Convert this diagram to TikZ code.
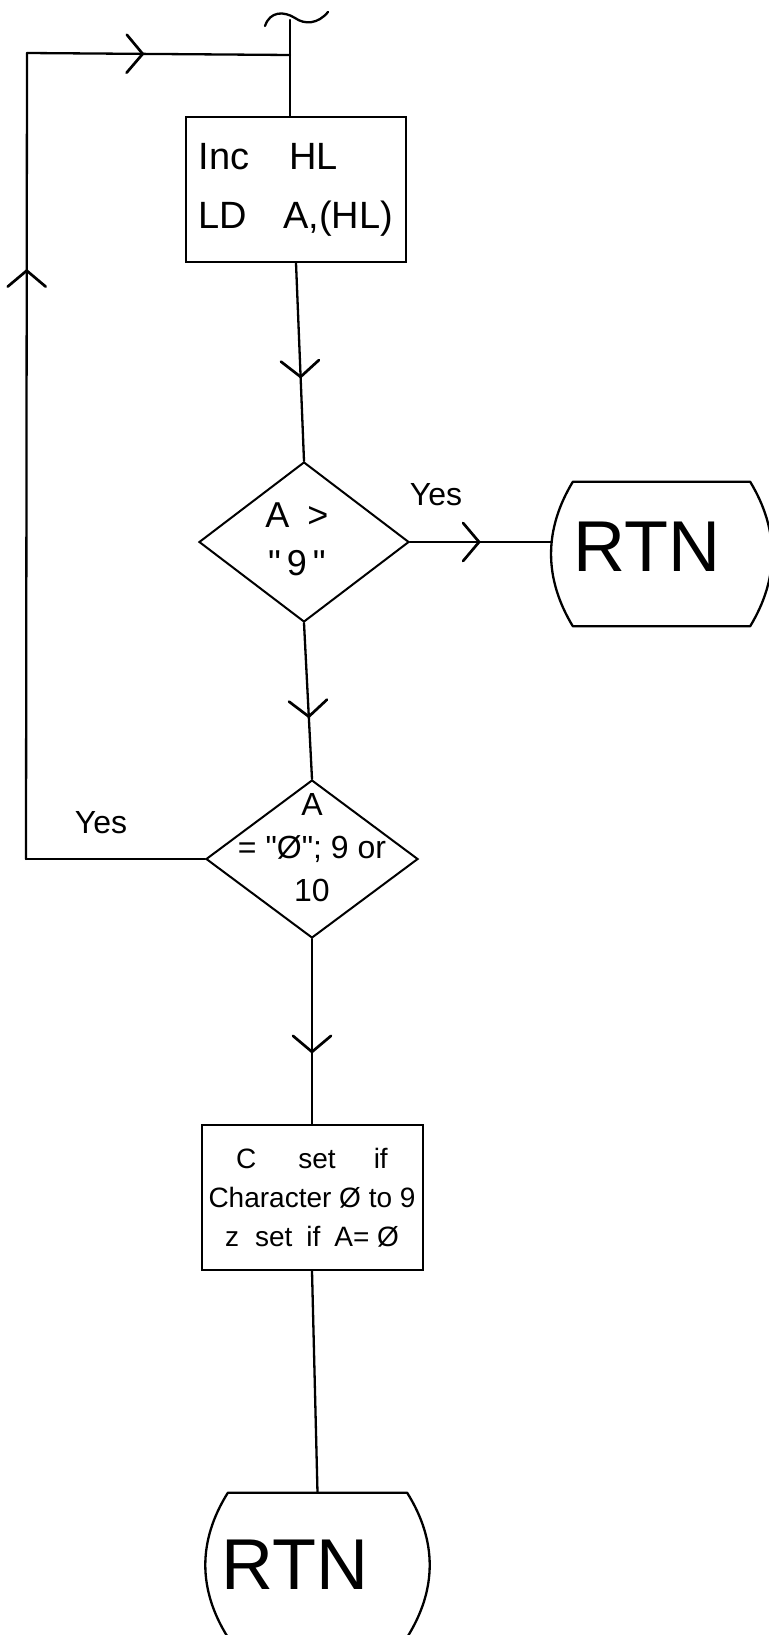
\documentclass[tikz,border=0pt]{standalone}
\usepackage{fontspec}
\setmainfont{Liberation Sans}[Ligatures=TeXOff]
\usetikzlibrary{shapes.geometric,decorations.markings,calc}
\tikzset{
  ln/.style={line width=2.3pt, line cap=round, line join=round},
  procbox/.style={draw, rectangle, line width=2pt, inner sep=0pt},
  decbox/.style={draw, diamond, line width=2pt, inner sep=0pt},
  termshape/.style={draw=none, rectangle, inner sep=0pt},
  midarrow/.style={postaction={decorate, decoration={markings,
      mark=at position #1 with {\draw[line width=2.7pt, line cap=round, line join=round]
        (-16pt,-19pt) -- (0pt,0pt) -- (-16pt,19pt);}}}},
  lbl/.style={inner sep=0pt, font=\fontsize{32}{38}\selectfont},
  rtntext/.style={inner sep=0pt, font=\fontsize{72}{80}\selectfont}
}
\begin{document}
\begin{tikzpicture}[x=1pt,y=-1pt]
\useasboundingbox (0,0) rectangle (768,1635);
\fill[white] (0,0) rectangle (768,1635);

% entry mark
\coordinate (start) at (290,20);
\draw[ln] (265,26) .. controls (270,11) and (284,11) .. (295,18) .. controls (305,25) and (318,24) .. (328,12);

% process box 1
\node[procbox, minimum width=220pt, minimum height=145pt, align=left,
      font=\fontsize{38}{59}\selectfont] (b1) at (296,189.5)
      {Inc\hspace{40pt}HL\\LD\hspace{36pt}A,(HL)};

% decision 1
\node[decbox, minimum width=210pt, minimum height=160pt] (d1) at (304,542) {};
\node[inner sep=0pt, align=center, font=\fontsize{36}{48}\selectfont] (d1t) at (297,539)
      {A\hspace{18pt}>\\"\hspace{6pt}9\hspace{6pt}"};

% terminal 1
\node[termshape, minimum width=177pt, minimum height=144pt] (r1) at (661.5,554) {};
\draw[ln] (r1.north west) -- (r1.north east)
   .. controls +(29,48) and +(29,-48) .. (r1.south east) -- (r1.south west)
   .. controls +(-29,-48) and +(-29,48) .. cycle;
\node[rtntext] (r1t) at (647,547) {RTN};
\coordinate (r1w) at (551,541);

% decision 2
\node[decbox, minimum width=212pt, minimum height=158pt] (d2) at (312,859) {};
\node[inner sep=0pt, align=center, font=\fontsize{32}{43}\selectfont] (d2t) at (312,848)
      {A\\= "Ø"; 9 or\\10};

% process box 3
\node[procbox, minimum width=221pt, minimum height=145pt, align=center,
      font=\fontsize{28}{39}\selectfont] (b3) at (312,1197.5)
      {C\hspace{42pt}set\hspace{38pt}if\\Character Ø to 9\\z\hspace{16pt}set\hspace{14pt}if\hspace{14pt}A= Ø};

% terminal 2
\node[termshape, minimum width=179pt, minimum height=144pt] (r2) at (317.5,1565) {};
\draw[ln] (r2.north west) -- (r2.north east)
   .. controls +(30,48) and +(30,-48) .. (r2.south east) -- (r2.south west)
   .. controls +(-30,-48) and +(-30,48) .. cycle;
\node[rtntext] (r2t) at (295,1565) {RTN};

% connectors
\coordinate (jn) at (290,55);
\coordinate (lb) at (26,859);
\coordinate (lt) at (27,53);
\draw[ln] (start) -- (start |- b1.north);
\draw[ln, midarrow=0.575] (b1.south) -- (d1.north);
\draw[ln, midarrow=0.6] (d1.south) -- (d2.north);
\draw[ln, midarrow=0.61] (d2.south) -- (b3.north);
\draw[ln] (b3.south) -- (r2.north);
\draw[ln, midarrow=0.49] (d1.east) -- (d1.east -| r1w);
\draw[ln] (d2.west) -- (lb);
\draw[ln, midarrow=0.73] (lb) -- (lt);
\draw[ln, midarrow=0.44] (lt) -- (jn);

% labels
\node[lbl] (y1) at (436,495) {Yes};
\node[lbl] (y2) at (101,823) {Yes};
\end{tikzpicture}
\end{document}
